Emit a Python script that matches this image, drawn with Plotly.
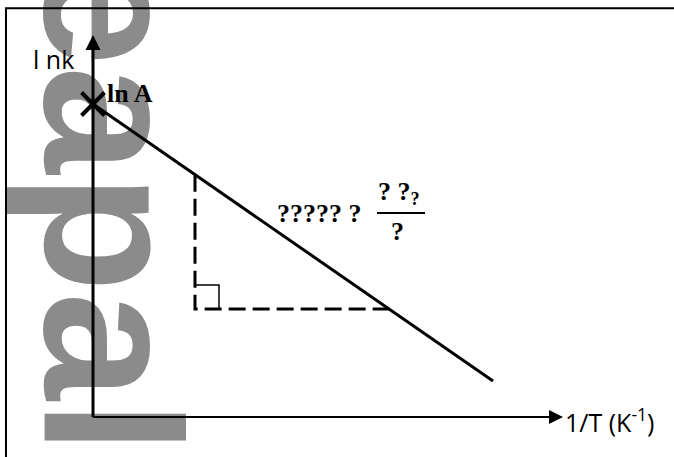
import plotly.graph_objects as go

# Arrhenius sketch: ln k against 1/T, in arbitrary plot units
ln_A = 3.13                 # intercept on the ln k axis
line_x = [0.0, 4.00]        # 1/T at the two ends of the straight line
line_y = [3.13, 0.36]       # ln k at the two ends
y_axis_top = 3.82
x_axis_end = 4.70
tri_x = 1.02                # left leg of the slope triangle
tri_y = 1.08                # bottom leg of the slope triangle
square_side = 0.24

y_label = "l nk"
x_label = "1/T (K<sup>-1</sup>)"
intercept_label = "ln A"
slope_label = "????? ?"
frac_top = "? ?<sub>?</sub>"
frac_bottom = "?"
watermark = "eapall"

slope = (line_y[1] - line_y[0]) / (line_x[1] - line_x[0])
tri_top = ln_A + slope * tri_x
tri_right = (tri_y - ln_A) / slope

fig = go.Figure()

# faint watermark behind everything
fig.add_trace(go.Bar(
    x=[0.195], y=[3.56], base=[0.06], width=[1.25],
    text=[watermark], textposition="inside", insidetextanchor="middle",
    constraintext="none", textangle=90,
    textfont=dict(family="Liberation Sans", size=194, color="#8b8b8b", weight="bold"),
    marker=dict(color="rgba(0,0,0,0)", line=dict(width=0)),
    hoverinfo="skip", showlegend=False, cliponaxis=False,
))

black = "#000000"

# axes
fig.add_trace(go.Scatter(x=[0, 0], y=[0, y_axis_top - 0.15], mode="lines",
                         line=dict(color=black, width=3), hoverinfo="skip"))
fig.add_trace(go.Scatter(x=[0, x_axis_end - 0.14], y=[0, 0], mode="lines",
                         line=dict(color=black, width=2.2), hoverinfo="skip"))
fig.add_trace(go.Scatter(x=[0], y=[y_axis_top], mode="markers",
                         marker=dict(symbol="arrow-up", size=15, color=black, line=dict(width=0)),
                         hoverinfo="skip"))
fig.add_trace(go.Scatter(x=[x_axis_end], y=[0], mode="markers",
                         marker=dict(symbol="arrow-right", size=14, color=black, line=dict(width=0)),
                         hoverinfo="skip"))

# slope triangle
fig.add_trace(go.Scatter(x=[tri_x, tri_x, tri_right], y=[tri_top, tri_y, tri_y], mode="lines",
                         line=dict(color=black, width=3, dash="17px,7px"), hoverinfo="skip"))
fig.add_trace(go.Scatter(x=[tri_x, tri_x + square_side, tri_x + square_side],
                         y=[tri_y + square_side, tri_y + square_side, tri_y], mode="lines",
                         line=dict(color=black, width=1.5), hoverinfo="skip"))

# straight line and intercept mark
fig.add_trace(go.Scatter(x=line_x, y=line_y, mode="lines",
                         line=dict(color=black, width=3), hoverinfo="skip"))
fig.add_trace(go.Scatter(x=[0], y=[ln_A], mode="markers",
                         marker=dict(symbol="x-thin", size=23, line=dict(color=black, width=4)),
                         hoverinfo="skip"))

# fraction bar
fig.add_trace(go.Scatter(x=[2.84, 3.32], y=[2.04, 2.04], mode="lines",
                         line=dict(color=black, width=2), hoverinfo="skip"))

sans = dict(family="Open Sans", size=25, color=black)
serif_b = dict(family="Liberation Serif", size=26, color=black, weight="bold")
serif_q = dict(family="Liberation Serif", size=26, color=black, weight="bold")

annotations = [
    dict(x=-0.62, y=3.58, text=y_label, font=sans, xanchor="left", yanchor="middle"),
    dict(x=0.12, y=3.24, text=intercept_label, font=serif_b, xanchor="left", yanchor="middle"),
    dict(x=1.82, y=2.04, text=slope_label, font=serif_q, xanchor="left", yanchor="middle"),
    dict(x=2.83, y=2.24, text=frac_top, font=serif_q, xanchor="left", yanchor="middle"),
    dict(x=3.045, y=1.86, text=frac_bottom, font=serif_q, xanchor="center", yanchor="middle"),
    dict(x=4.695, y=-0.03, text=x_label, font=dict(family="Open Sans", size=25, color=black),
         xanchor="left", yanchor="middle"),
]
for a in annotations:
    a.update(xref="x", yref="y", showarrow=False)

fig.update_layout(
    width=674, height=457, autosize=False,
    margin=dict(l=0, r=0, t=0, b=0),
    paper_bgcolor="white", plot_bgcolor="white",
    showlegend=False,
    xaxis=dict(range=[-0.93, 5.81], visible=False, fixedrange=True),
    yaxis=dict(range=[-0.40, 4.17], visible=False, fixedrange=True),
    annotations=annotations,
    shapes=[dict(type="path", xref="paper", yref="paper", layer="above",
                 path="M %f,0 L %f,%f L 1.01,%f" % (6 / 674, 6 / 674, 1 - 8.3 / 457, 1 - 8.3 / 457),
                 line=dict(color=black, width=2))],
)

fig.write_html("out.html")
